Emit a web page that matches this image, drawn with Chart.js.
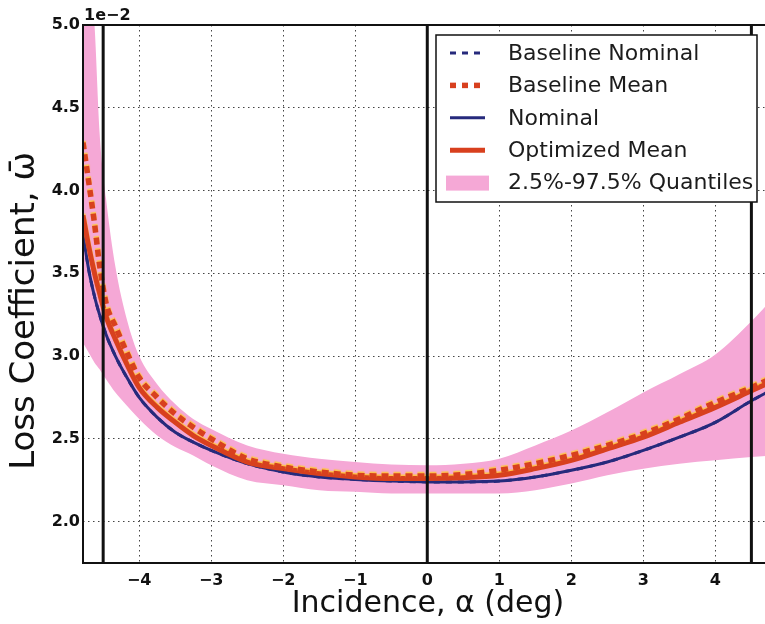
<!DOCTYPE html>
<html>
<head>
<meta charset="utf-8">
<script src="https://cdn.jsdelivr.net/npm/chart.js@4.4.1/dist/chart.umd.min.js"></script>
<style>
  html, body { margin: 0; padding: 0; background: #fff; overflow: hidden; }
  #wrap { width: 765px; height: 624px; overflow: hidden; }
</style>
</head>
<body>
<div id="wrap"><canvas id="lossChart" width="780" height="624"></canvas></div>
<script>
// incidence angle (deg) where the curves were read
var alpha = [-4.78, -4.7, -4.62, -4.55, -4.46, -4.33, -4.17, -4.0, -3.75, -3.5, -3.25, -3.0, -2.5, -2.0,
             -1.5, -1.0, -0.5, 0, 0.5, 1.0, 1.5, 2.0, 2.5, 3.0, 3.5, 4.0, 4.5, 4.8];

// loss coefficient, in units of 1e-2
var nominal = [3.74, 3.52, 3.36, 3.25, 3.13, 3.00, 2.87, 2.75, 2.63, 2.54, 2.48, 2.43, 2.35, 2.30,
               2.27, 2.255, 2.245, 2.24, 2.24, 2.245, 2.27, 2.31, 2.36, 2.43, 2.51, 2.60, 2.73, 2.80];
var baselineNominal = [3.74, 3.52, 3.36, 3.25, 3.13, 3.00, 2.87, 2.75, 2.63, 2.54, 2.48, 2.43, 2.35, 2.30,
                       2.27, 2.255, 2.245, 2.24, 2.24, 2.245, 2.27, 2.31, 2.36, 2.43, 2.51, 2.60, 2.73, 2.80];
var baselineMean = [4.29, 4.05, 3.80, 3.55, 3.32, 3.18, 3.02, 2.87, 2.75, 2.65, 2.57, 2.50, 2.38, 2.33,
                    2.30, 2.28, 2.275, 2.275, 2.285, 2.31, 2.35, 2.40, 2.46, 2.53, 2.62, 2.72, 2.81, 2.87];
var optimizedMean = [3.85, 3.66, 3.50, 3.38, 3.24, 3.10, 2.95, 2.81, 2.69, 2.60, 2.52, 2.46, 2.36, 2.32,
                     2.29, 2.27, 2.26, 2.26, 2.265, 2.28, 2.32, 2.37, 2.44, 2.51, 2.60, 2.69, 2.79, 2.85];
var quantLow = [3.08, 3.02, 2.96, 2.92, 2.86, 2.78, 2.70, 2.62, 2.52, 2.45, 2.40, 2.34, 2.25, 2.22,
                2.19, 2.18, 2.17, 2.17, 2.17, 2.17, 2.19, 2.23, 2.28, 2.32, 2.35, 2.37, 2.39, 2.40];
var quantHigh = [5.9, 5.4, 5.0, 4.35, 3.95, 3.54, 3.22, 3.0, 2.83, 2.71, 2.62, 2.56, 2.46, 2.41,
                 2.38, 2.36, 2.345, 2.34, 2.35, 2.38, 2.46, 2.55, 2.66, 2.78, 2.89, 3.01, 3.21, 3.35];

var xTicks = [-4, -3, -2, -1, 0, 1, 2, 3, 4];
var yTicks = [2.0, 2.5, 3.0, 3.5, 4.0, 4.5, 5.0];
var refLines = [-4.5, 0, 4.5];

var seriesNames = ['Baseline Nominal', 'Baseline Mean', 'Nominal', 'Optimized Mean', '2.5%-97.5% Quantiles'];

var NAVY = '#262a7c';
var RED = '#d8401e';
var PINK = '#f5a8d6';
var FONT = 'DejaVu Sans';

function pts(ys) {
    return alpha.map(function (a, i) { return { x: a, y: ys[i] }; });
}

function lineSet(label, ys, color, width, dash, order) {
    return {
        label: label,
        data: pts(ys),
        borderColor: color,
        borderWidth: width,
        borderDash: dash,
        pointRadius: 0,
        fill: false,
        cubicInterpolationMode: 'monotone',
        order: order
    };
}

var datasets = [
    { label: 'q low', data: pts(quantLow), borderWidth: 0, pointRadius: 0, fill: false,
      cubicInterpolationMode: 'monotone', order: 10 },
    { label: seriesNames[4], data: pts(quantHigh), borderWidth: 0, pointRadius: 0, fill: '-1',
      backgroundColor: PINK, cubicInterpolationMode: 'monotone', order: 9 },
    lineSet(seriesNames[0], baselineNominal, NAVY, 3, [6, 6], 6),
    lineSet(seriesNames[2], nominal, NAVY, 3, [], 5),
    lineSet(seriesNames[3], optimizedMean, RED, 5, [], 4),
    lineSet(seriesNames[1], baselineMean, RED, 5.5, [7, 5], 3)
];

// the red curves have a thin yellow rim in the scan
var rimPlugin = {
    id: 'rim',
    beforeDatasetDraw: function (chart, args) {
        if (args.meta.dataset && chart.data.datasets[args.index].borderColor === RED) {
            chart.ctx.save();
            chart.ctx.shadowColor = 'rgba(255, 200, 50, 0.85)';
            chart.ctx.shadowOffsetY = -1.5;
            chart.ctx.shadowBlur = 1;
            args.meta._rim = true;
        }
    },
    afterDatasetDraw: function (chart, args) {
        if (args.meta._rim) {
            chart.ctx.restore();
            args.meta._rim = false;
        }
    }
};

// black vertical lines at the reference incidences
var refLinePlugin = {
    id: 'refLines',
    afterDatasetsDraw: function (chart) {
        var ctx = chart.ctx, a = chart.chartArea, xs = chart.scales.x;
        ctx.save();
        ctx.strokeStyle = '#111';
        ctx.lineWidth = 3;
        refLines.forEach(function (v) {
            var px = xs.getPixelForValue(v);
            ctx.beginPath();
            ctx.moveTo(px, a.top);
            ctx.lineTo(px, a.bottom);
            ctx.stroke();
        });
        ctx.restore();
    }
};

// axes frame, y title, offset text and the boxed legend
var decorPlugin = {
    id: 'decor',
    afterDraw: function (chart) {
        var ctx = chart.ctx, a = chart.chartArea;
        ctx.save();
        ctx.strokeStyle = '#111';
        ctx.lineWidth = 2;
        ctx.strokeRect(a.left, a.top, a.right - a.left, a.bottom - a.top);

        ctx.fillStyle = '#111';
        ctx.font = 'bold 16px "' + FONT + '"';
        ctx.textBaseline = 'alphabetic';
        ctx.fillText('1e\u22122', a.left + 1, a.top - 5);

        ctx.save();
        ctx.translate(25, 311);
        ctx.rotate(-Math.PI / 2);
        ctx.font = '34px "' + FONT + '"';
        ctx.textAlign = 'center';
        ctx.textBaseline = 'middle';
        ctx.fillText('Loss Coefficient, \u03c9\u0304', 0, 0);
        ctx.restore();

        // legend
        var bx = 436, by = 35, bw = 321, bh = 167;
        ctx.fillStyle = '#fff';
        ctx.fillRect(bx, by, bw, bh);
        ctx.lineWidth = 1.5;
        ctx.strokeRect(bx, by, bw, bh);

        var items = [
            { ds: datasets[2] }, { ds: datasets[5] }, { ds: datasets[3] }, { ds: datasets[4] }, { patch: true }
        ];
        ctx.font = '22px "' + FONT + '"';
        ctx.textBaseline = 'middle';
        items.forEach(function (it, i) {
            var y = 53 + i * 32.4;
            if (it.patch) {
                ctx.fillStyle = PINK;
                ctx.fillRect(446, y - 7, 43, 15);
            } else {
                ctx.strokeStyle = it.ds.borderColor;
                ctx.lineWidth = it.ds.borderWidth;
                ctx.setLineDash(it.ds.borderDash.length ? [6, 6] : []);
                ctx.beginPath();
                ctx.moveTo(450, y);
                ctx.lineTo(485, y);
                ctx.stroke();
                ctx.setLineDash([]);
            }
            ctx.fillStyle = '#1c1c1c';
            ctx.fillText(seriesNames[i], 508, y + 1);
        });
        ctx.restore();
    }
};

var ctx = document.getElementById('lossChart').getContext('2d');
var chart = new Chart(ctx, {
    type: 'line',
    data: { datasets: datasets },
    plugins: [rimPlugin, refLinePlugin, decorPlugin],
    options: {
        responsive: false,
        animation: false,
        devicePixelRatio: 1,
        layout: { padding: { left: 0, top: 25, right: 7, bottom: 0 } },
        plugins: { legend: { display: false }, tooltip: { enabled: false } },
        scales: {
            x: {
                type: 'linear',
                min: -4.78,
                max: 4.8,
                afterBuildTicks: function (s) { s.ticks = xTicks.map(function (v) { return { value: v }; }); },
                afterFit: function (s) { s.height = 61; },
                grid: { color: '#444', lineWidth: 1, drawTicks: false },
                border: { display: false, dash: [1.5, 3.5] },
                ticks: {
                    autoSkip: false, maxRotation: 0, padding: 8, color: '#111',
                    font: { family: FONT, size: 16, weight: 'bold' },
                    callback: function (v) { return v < 0 ? '\u2212' + Math.abs(v) : String(v); }
                },
                title: {
                    display: true, text: 'Incidence, \u03b1 (deg)', color: '#111',
                    font: { family: FONT, size: 30 }, padding: { top: 0, bottom: 2 }
                }
            },
            y: {
                min: 1.75,
                max: 5.0,
                afterBuildTicks: function (s) { s.ticks = yTicks.map(function (v) { return { value: v }; }); },
                afterFit: function (s) { s.width = 83; },
                grid: { color: '#444', lineWidth: 1, drawTicks: false },
                border: { display: false, dash: [1.5, 3.5] },
                ticks: {
                    padding: 3, color: '#111',
                    font: { family: FONT, size: 16, weight: 'bold' },
                    callback: function (v) { return v.toFixed(1); }
                }
            }
        }
    }
});
</script>
</body>
</html>
